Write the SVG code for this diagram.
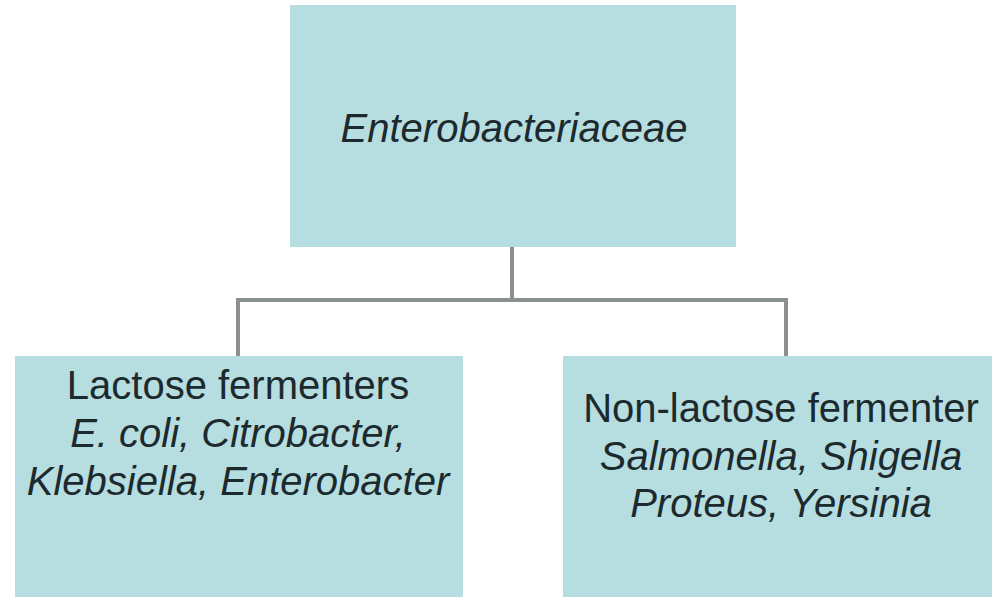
<svg xmlns="http://www.w3.org/2000/svg" width="992" height="597" viewBox="0 0 992 597">
<style>
.box{fill:#b6dde0;}
.t{font-family:"Liberation Sans",Arial,sans-serif;font-size:40px;fill:#1c2a2e;text-anchor:middle;}
.i{font-style:italic;}
.c{fill:none;stroke:#8b9090;stroke-width:4;stroke-linejoin:miter;}
</style>
<rect width="992" height="597" fill="#ffffff"/>
<g id="connectors">
<path class="c" d="M512,247 V300 M238,356 V300 H786 V356"/>
</g>
<g id="root">
<rect class="box" x="290" y="5" width="446" height="242"/>
<text class="t i" x="514" y="142">Enterobacteriaceae</text>
</g>
<g id="lactose">
<rect class="box" x="15" y="356" width="448" height="241"/>
<text class="t" x="238" y="399">Lactose fermenters</text>
<text class="t i" x="238" y="447">E. coli, Citrobacter,</text>
<text class="t i" x="238" y="495">Klebsiella, Enterobacter</text>
</g>
<g id="nonlactose">
<rect class="box" x="563" y="356" width="429" height="241"/>
<text class="t" x="781" y="422">Non-lactose fermenter</text>
<text class="t i" x="781" y="470">Salmonella, Shigella</text>
<text class="t i" x="781" y="517">Proteus, Yersinia</text>
</g>
</svg>
